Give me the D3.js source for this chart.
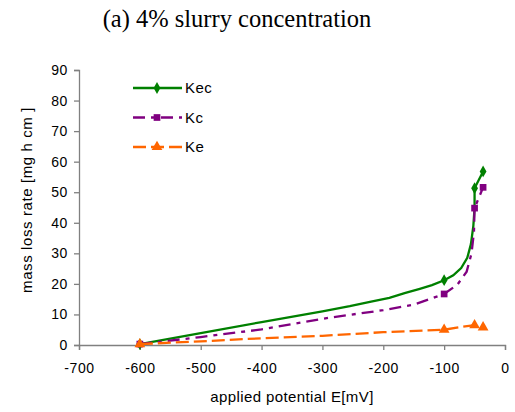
<!DOCTYPE html>
<html>
<head>
<meta charset="utf-8">
<script src="https://cdn.jsdelivr.net/npm/d3@7"></script>
<style>
  body { margin: 0; background: #fff; }
  text { font-family: "Liberation Sans", Arial, sans-serif; }
</style>
</head>
<body>
<svg id="chart" width="515" height="412"></svg>
<script>
// curve points (E in mV, rate)
const kecE = [-600, -500, -400, -300, -255, -220, -190, -165, -140, -120, -100, -85, -72, -62, -56, -52, -50, -50, -36];
const kecV = [0.3, 3.9, 7.5, 11, 12.7, 14.2, 15.4, 17, 18.4, 19.6, 21.2, 22.8, 25.2, 28.5, 33, 39, 45, 51.3, 56.8];
const kcE = [-600, -500, -400, -290, -200, -150, -100, -78, -63, -55, -51, -50, -36];
const kcV = [0.3, 2.6, 5.1, 8.9, 11.4, 13.2, 16.7, 19.8, 24, 30, 37, 44.8, 51.6];
const keE = [-600, -500, -400, -300, -200, -100, -75, -50, -36];
const keV = [0.3, 1.2, 2.2, 3, 4.2, 5, 5.8, 6.5, 5.8];

// marker points
const markE = [-600, -100, -50, -36];
const kecMark = [0.3, 21.2, 51.3, 56.8];
const kcMark = [0.3, 16.7, 44.8, 51.6];
const keMark = [0.3, 5, 6.5, 5.8];

const xTicks = [-700, -600, -500, -400, -300, -200, -100, 0];
const yTicks = [0, 10, 20, 30, 40, 50, 60, 70, 80, 90];

const series = [
  { name: 'Kec', E: kecE, V: kecV, M: kecMark, color: '#008000', dash: null, symbol: d3.symbolDiamond, size: 40 },
  { name: 'Kc', E: kcE, V: kcV, M: kcMark, color: '#800080', dash: '12,6,4,6', symbol: d3.symbolSquare, size: 45 },
  { name: 'Ke', E: keE, V: keV, M: keMark, color: '#ff6600', dash: '13,5', symbol: d3.symbolTriangle, size: 50 }
];

const svg = d3.select('#chart');
const x = d3.scaleLinear().domain([-700, 0]).range([79, 505]);
const y = d3.scaleLinear().domain([0, 90]).range([345, 70]);

svg.append('text')
  .attr('x', 237).attr('y', 27)
  .attr('text-anchor', 'middle')
  .style('font-family', '"Liberation Serif", "Times New Roman", serif')
  .style('font-size', '24.5px')
  .text('(a) 4% slurry concentration');

const xAxis = svg.append('g')
  .attr('transform', 'translate(0,345)')
  .call(d3.axisBottom(x).tickValues(xTicks).tickFormat((d) => String(d)).tickSize(5).tickPadding(13));
const yAxis = svg.append('g')
  .attr('transform', 'translate(79,0)')
  .call(d3.axisLeft(y).tickValues(yTicks).tickFormat((d) => String(d)).tickSize(5).tickPadding(6));

[xAxis, yAxis].forEach((g) => {
  g.select('.domain').attr('stroke', '#808080').attr('stroke-width', 1.3);
  g.selectAll('.tick line').attr('stroke', '#808080').attr('stroke-width', 1.3);
  g.selectAll('.tick text')
    .style('font-size', '14px')
    .style('letter-spacing', '0.6px')
    .attr('fill', '#000');
});

svg.append('text')
  .attr('x', 292).attr('y', 402)
  .attr('text-anchor', 'middle')
  .style('font-size', '15px')
  .style('letter-spacing', '0.4px')
  .text('applied potential E[mV]');

svg.append('text')
  .attr('transform', 'translate(32,200) rotate(-90)')
  .attr('text-anchor', 'middle')
  .style('font-size', '15px')
  .style('letter-spacing', '0.6px')
  .text('mass loss rate [mg h cm ]');

const line = d3.line().x((d) => x(d[0])).y((d) => y(d[1]));

series.forEach((s, i) => {
  const pts = s.E.map((e, j) => [e, s.V[j]]);
  svg.append('path')
    .attr('d', line(pts))
    .attr('fill', 'none')
    .attr('stroke', s.color)
    .attr('stroke-width', 2.3)
    .attr('stroke-dasharray', s.dash);

  markE.forEach((e, j) => {
    svg.append('path')
      .attr('d', d3.symbol(s.symbol, s.size)())
      .attr('transform', `translate(${x(e)},${y(s.M[j])})`)
      .attr('fill', s.color);
  });

  // legend
  const ly = 88 + i * 29.5;
  svg.append('line')
    .attr('x1', 133).attr('x2', 182)
    .attr('y1', ly).attr('y2', ly)
    .attr('stroke', s.color)
    .attr('stroke-width', 2.3)
    .attr('stroke-dasharray', s.dash);
  svg.append('path')
    .attr('d', d3.symbol(s.symbol, s.size)())
    .attr('transform', `translate(157,${ly})`)
    .attr('fill', s.color);
  svg.append('text')
    .attr('x', 185).attr('y', ly + 5)
    .style('font-size', '15px')
    .style('letter-spacing', '0.4px')
    .text(s.name);
});
</script>
</body>
</html>
